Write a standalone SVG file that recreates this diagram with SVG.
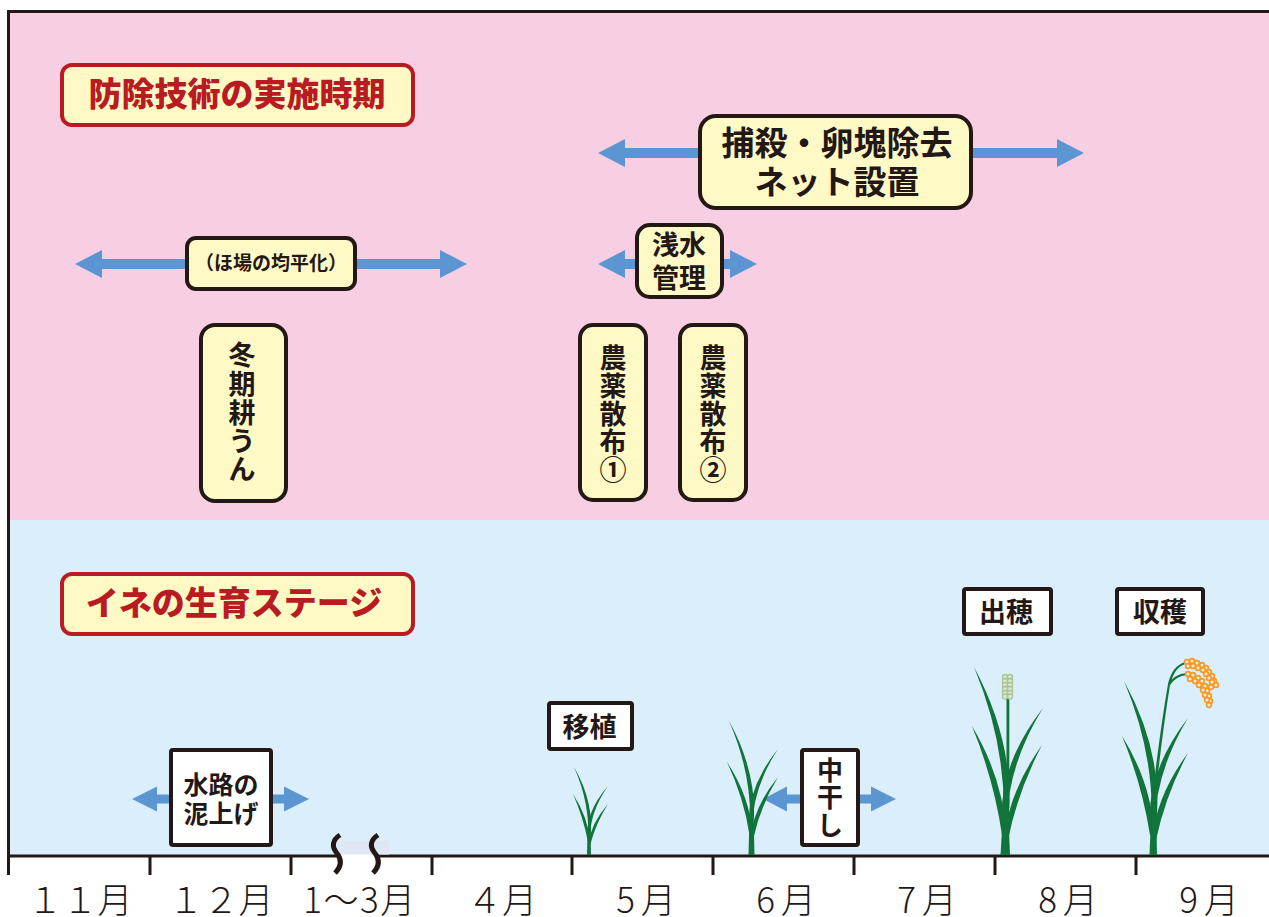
<svg xmlns="http://www.w3.org/2000/svg" width="1269" height="917" viewBox="0 0 1269 917">
<style>
text{font-family:"Noto Sans CJK JP","Noto Sans",sans-serif;text-anchor:middle;fill:#231815}
.b{font-weight:700;font-size:27px}
.w{font-size:33px}
.m{font-size:35px;font-weight:300}
.sp{letter-spacing:6px}
.box{fill:#fffac5;stroke:#231815;stroke-width:4}
.sq{fill:#fff;stroke:#231815;stroke-width:4}
.head{fill:#fffac5;stroke:#b81c22;stroke-width:4}
.ht{font-weight:900;font-size:33px;fill:#b81c22}
.arrow{fill:#5b96d2}
.leaf{fill:#11743a}
.ax{stroke:#231815;stroke-width:3;fill:none}
.cut{stroke:#231815;stroke-width:5;fill:none}
.grain{fill:#fdeccf;stroke:#f39a2b;stroke-width:1.700}
.bud{fill:#dbe9c8;stroke:#a8c59b;stroke-width:1.400}
</style>
<defs>
<circle id="g" class="grain" r="2.400"/>
<circle id="bd" class="bud" r="2.500"/>
</defs>
<rect x="8" y="10" width="1261" height="510" fill="#f8cee3"/>
<rect x="8" y="520" width="1261" height="336" fill="#dbeefb"/>

<g id="connectors" class="arrow">
<path d="M598 153L625 139V148H1057V139L1084 153L1057 167V158H625V167Z"/>
<path d="M75 264L102 250V259H440V250L467 264L440 278V269H102V278Z"/>
<path d="M598 264L625 250V259H730V250L757 264L730 278V269H625V278Z"/>
<path d="M132 799L157 786.500V794.500H284V786.500L309 799L284 811.500V803.500H157V811.500Z"/>
<path d="M763 799L787 786.500V794.500H871V786.500L896 799L871 811.500V803.500H787V811.500Z"/>
</g>

<g id="axis">
<path class="ax" d="M8.500 875V11.500H1269"/>
<path class="ax" d="M8 856H337M378 856H1269"/>
<path class="ax" d="M150 856V875M291 856V875M432 856V875M572 856V875M713 856V875M854 856V875M995 856V875M1136 856V875"/>
<!-- pale strip and white gap where the time axis is broken -->
<rect x="338" y="854" width="38" height="3" fill="#fff"/>
<rect x="338" y="841" width="51" height="13.500" fill="#dfe8f4"/>
<path class="cut" d="M340 835C332 840 332 847 336 852C341 858 343 865 335 873"/>
<path class="cut" d="M378 835C370 840 370 847 374 852C379 858 381 865 373 873"/>
</g>

<g id="months" class="m">
<text x="80" y="913">１１月</text>
<text x="221" y="913">１２月</text>
<text x="360" y="913" style="letter-spacing:1.500px">1〜3月</text>
<text x="502" y="913">４月</text>
<text class="sp" x="649" y="913">5月</text>
<text class="sp" x="789" y="913">6月</text>
<text class="sp" x="930" y="913">7月</text>
<text class="sp" x="1071" y="913">8月</text>
<text class="sp" x="1212" y="913">9月</text>
</g>

<g id="title-timing"><rect class="head" x="62" y="65" width="351" height="60" rx="10"/><text class="ht" x="237" y="106">防除技術の実施時期</text></g>
<g id="title-stage"><rect class="head" x="62" y="574" width="351" height="60" rx="10"/><text class="ht" x="234" y="615">イネの生育ステージ</text></g>

<g id="node-capture"><rect class="box" x="700" y="116" width="271" height="92" rx="16"/><text class="b w"><tspan x="837" y="155">捕殺・卵塊除去</tspan><tspan x="837" y="194">ネット設置</tspan></text></g>
<g id="node-levelling"><rect class="box" x="187" y="238" width="168" height="51" rx="9"/><text class="b" style="font-size:19px" x="271" y="270">（ほ場の均平化）</text></g>
<g id="node-water"><rect class="box" x="637" y="225" width="85" height="72" rx="13"/><text class="b"><tspan x="679" y="255">浅水</tspan><tspan x="679" y="288">管理</tspan></text></g>
<g id="node-tillage"><rect class="box" x="201" y="325" width="85" height="176" rx="14"/><text class="b"><tspan x="242" y="365">冬</tspan><tspan x="242" y="394">期</tspan><tspan x="242" y="423">耕</tspan><tspan x="242" y="451">う</tspan><tspan x="242" y="479">ん</tspan></text></g>
<g id="node-spray1"><rect class="box" x="580" y="325" width="66" height="175" rx="13"/><text class="b"><tspan x="613" y="368">農</tspan><tspan x="613" y="396">薬</tspan><tspan x="613" y="424">散</tspan><tspan x="613" y="452">布</tspan><tspan x="613" y="480">①</tspan></text></g>
<g id="node-spray2"><rect class="box" x="680" y="325" width="66" height="175" rx="13"/><text class="b"><tspan x="713" y="368">農</tspan><tspan x="713" y="396">薬</tspan><tspan x="713" y="424">散</tspan><tspan x="713" y="452">布</tspan><tspan x="713" y="480">②</tspan></text></g>

<g id="node-ditch"><rect class="sq" x="171" y="750" width="100" height="95" rx="2"/><text class="b" style="font-size:25px"><tspan x="221" y="794">水路の</tspan><tspan x="221" y="823">泥上げ</tspan></text></g>
<g id="node-planting"><rect class="sq" x="549" y="703" width="83" height="46" rx="2"/><text class="b" x="589.500" y="737">移植</text></g>
<g id="node-drainage"><rect class="sq" x="802" y="750" width="56" height="95" rx="2"/><text class="b" style="font-size:26px"><tspan x="830" y="780">中</tspan><tspan x="830" y="807">干</tspan><tspan x="830" y="835">し</tspan></text></g>
<g id="node-heading"><rect class="sq" x="964" y="589" width="87" height="45" rx="2"/><text class="b" x="1006" y="622">出穂</text></g>
<g id="node-harvest"><rect class="sq" x="1117" y="589" width="86" height="45" rx="2"/><text class="b" x="1160" y="622">収穫</text></g>

<g id="plant-seedling" class="leaf">
<path d="M587 855H591L590.700 842L589 820L587.300 842Z"/>
<path d="M588 842Q590.500 804 574 767Q595.500 804 590 842Z"/>
<path d="M588 842Q583.500 818 573 794Q588.500 818 590 842Z"/>
<path d="M588 842Q583.500 814 608 786Q588.500 814 590 842Z"/>
<path d="M588.500 844Q590.500 824 608 804Q595.500 824 590.500 844Z"/>
</g>
<g id="plant-tillering" class="leaf">
<path d="M748.500 855H754.500L754 835L751.500 805L749 835Z"/>
<path d="M749.500 835Q754 778 729 721Q760.500 778 752.500 835Z"/>
<path d="M749.500 835Q744 798 727 762Q750.500 798 752.500 835Z"/>
<path d="M749.500 835Q743.500 792 778 749Q750 792 752.500 835Z"/>
<path d="M750.500 838Q753.500 807 778 777Q760 807 753.500 838Z"/>
</g>
<g id="plant-earing" class="leaf">
<path d="M1003 835Q1009 751 974 667Q1019 751 1007 835Z"/>
<path d="M1002 835Q994 780 972 726Q1004 780 1006 835Z"/>
<path d="M1003 835Q994 771 1043 708Q1004 771 1007 835Z"/>
<path d="M1004 840Q1008.500 792 1042 745Q1017.500 792 1008 840Z"/>
<path d="M1000.500 855H1010L1009 830L1005.500 790L1002 830Z"/>
<rect x="1006.500" y="698" width="2.800" height="110"/>
</g>
<g id="panicle-green">
<use href="#bd" x="1005" y="677"/><use href="#bd" x="1010" y="677"/><use href="#bd" x="1005" y="681"/><use href="#bd" x="1010" y="681"/><use href="#bd" x="1005" y="685"/><use href="#bd" x="1010" y="685"/><use href="#bd" x="1005" y="689"/><use href="#bd" x="1010" y="689"/><use href="#bd" x="1005" y="693"/><use href="#bd" x="1010" y="693"/><use href="#bd" x="1005" y="696.500"/><use href="#bd" x="1010" y="696.500"/>
</g>
<g id="plant-ripe" class="leaf">
<path d="M1151 835Q1156.500 758 1124 681Q1166.500 758 1155 835Z"/>
<path d="M1150 835Q1142 784 1122 736Q1152 784 1154 835Z"/>
<path d="M1151 835Q1142.500 777 1188 718Q1152.500 777 1155 835Z"/>
<path d="M1152 840Q1156.500 795 1188 753Q1165.500 795 1156 840Z"/>
<path d="M1149.500 855H1157L1156.500 830L1153.500 790L1150.500 830Z"/>
<path d="M1152 800Q1160 730 1168 684Q1172 666 1185 662V664Q1174 668 1170 685Q1162 735 1155 800Z"/>
<path d="M1168 684Q1174 674 1187 673V675Q1176 676 1170 685Z"/>
</g>
<g id="panicle-ripe">
<use href="#g" x="1187" y="662"/><use href="#g" x="1192" y="661"/><use href="#g" x="1197" y="663"/><use href="#g" x="1202" y="665"/><use href="#g" x="1206" y="668"/><use href="#g" x="1209" y="672"/><use href="#g" x="1212" y="676"/><use href="#g" x="1214" y="681"/><use href="#g" x="1216" y="685"/><use href="#g" x="1188" y="666"/><use href="#g" x="1193" y="666"/><use href="#g" x="1198" y="668"/><use href="#g" x="1203" y="670"/><use href="#g" x="1206" y="674"/><use href="#g" x="1209" y="678"/><use href="#g" x="1212" y="682"/><use href="#g" x="1211" y="687"/>
<use href="#g" x="1188" y="674"/><use href="#g" x="1193" y="675"/><use href="#g" x="1198" y="678"/><use href="#g" x="1202" y="681"/><use href="#g" x="1205" y="686"/><use href="#g" x="1207" y="691"/><use href="#g" x="1209" y="696"/><use href="#g" x="1210" y="701"/><use href="#g" x="1190" y="679"/><use href="#g" x="1195" y="681"/><use href="#g" x="1199" y="685"/><use href="#g" x="1203" y="690"/><use href="#g" x="1205" y="695"/><use href="#g" x="1207" y="700"/><use href="#g" x="1209" y="705"/>
</g>
</svg>
